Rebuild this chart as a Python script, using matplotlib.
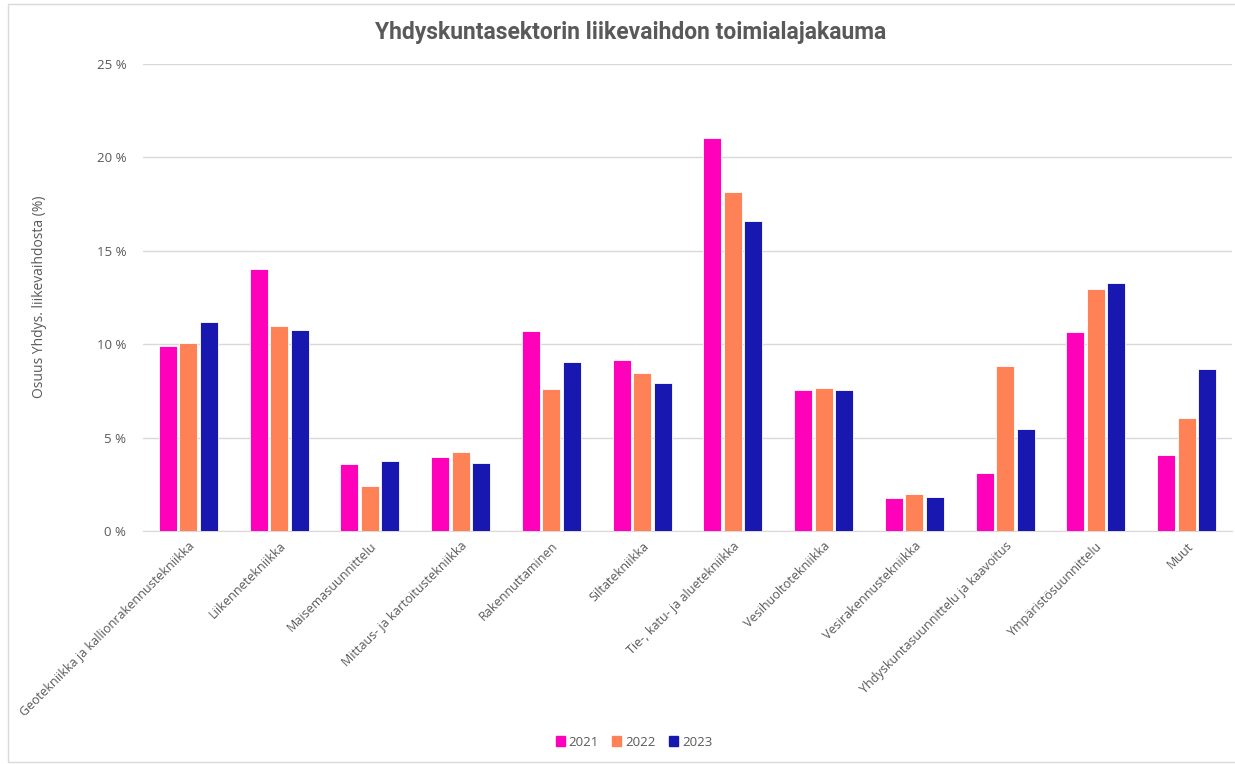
import matplotlib.pyplot as plt
import matplotlib.patches as mpatches
import numpy as np

plt.rcParams['font.family'] = ['Open Sans', 'DejaVu Sans']

categories = ["Geotekniikka ja kallionrakennustekniikka", "Liikennetekniikka",
              "Maisemasuunnittelu", "Mittaus- ja kartoitustekniikka",
              "Rakennuttaminen", "Siltatekniikka", "Tie-, katu- ja aluetekniikka",
              "Vesihuoltotekniikka", "Vesirakennustekniikka",
              "Yhdyskuntasuunnittelu ja kaavoitus", "Ympäristösuunnittelu", "Muut"]
years = ["2021", "2022", "2023"]
v2021 = [9.9, 14.03, 3.6, 3.96, 10.71, 9.15, 21.04, 7.55, 1.77, 3.1, 10.65, 4.07]
v2022 = [10.06, 10.97, 2.41, 4.23, 7.6, 8.46, 18.15, 7.66, 1.98, 8.83, 12.96, 6.07]
v2023 = [11.19, 10.76, 3.75, 3.64, 9.05, 7.92, 16.6, 7.55, 1.82, 5.46, 13.28, 8.66]
colors = ['#FF00BB', '#FF8257', '#1818B0']
grey = '#595959'

fig = plt.figure(figsize=(12.35, 7.64), dpi=100)
ax = fig.add_axes([143/1235, 1 - 531/764, (1232-143)/1235, (531-64)/764])

x = np.arange(len(categories))
w = 0.2
step = 0.226
for i, vals in enumerate([v2021, v2022, v2023]):
    ax.bar(x + (i - 1) * step, vals, w, color=colors[i], label=years[i],
           edgecolor='white', linewidth=0.6, zorder=3)

ax.set_xlim(-0.5, len(categories) - 0.5)
ax.set_ylim(0, 25)
ax.set_yticks([0, 5, 10, 15, 20, 25])
ax.set_yticklabels([f"{t} %" for t in [0, 5, 10, 15, 20, 25]], color=grey, fontsize=9.5)
ax.grid(axis='y', color='#D9D9D9', linewidth=1, zorder=0)
for s in ['top', 'right', 'left']:
    ax.spines[s].set_visible(False)
ax.spines['bottom'].set_color('#D9D9D9')
ax.tick_params(axis='y', length=0, pad=12)
ax.tick_params(axis='x', length=0, pad=6)
ax.set_xticks(x)
ax.set_xticklabels(categories, rotation=45, ha='right', rotation_mode='anchor',
                   color=grey, fontsize=9)

fig.text(40/1235, 1 - 297/764, "Osuus Yhdys. liikevaihdosta (%)", rotation=90,
         ha='center', va='center', color=grey, fontsize=10)
fig.text(631/1235, 1 - 32/764, "Yhdyskuntasektorin liikevaihdon toimialajakauma",
         ha='center', va='center', color=grey, fontsize=16.5, fontweight='bold',
         family=['Roboto', 'DejaVu Sans'])

handles = [mpatches.Patch(color=c, label=y) for c, y in zip(colors, years)]
fig.legend(handles=handles, loc='center', bbox_to_anchor=(634/1235, 1 - 742/764),
           ncol=3, frameon=False, fontsize=9.5, handlelength=0.7, handleheight=0.7,
           handletextpad=0.3, columnspacing=1.0, labelcolor=grey)

# chart border
fig.patches.append(mpatches.Rectangle((8/1235, 2/764), 1240/1235, 758/764,
                                      transform=fig.transFigure, fill=False,
                                      edgecolor='#D9D9D9', linewidth=1))

fig.savefig("out.png", dpi=100)
